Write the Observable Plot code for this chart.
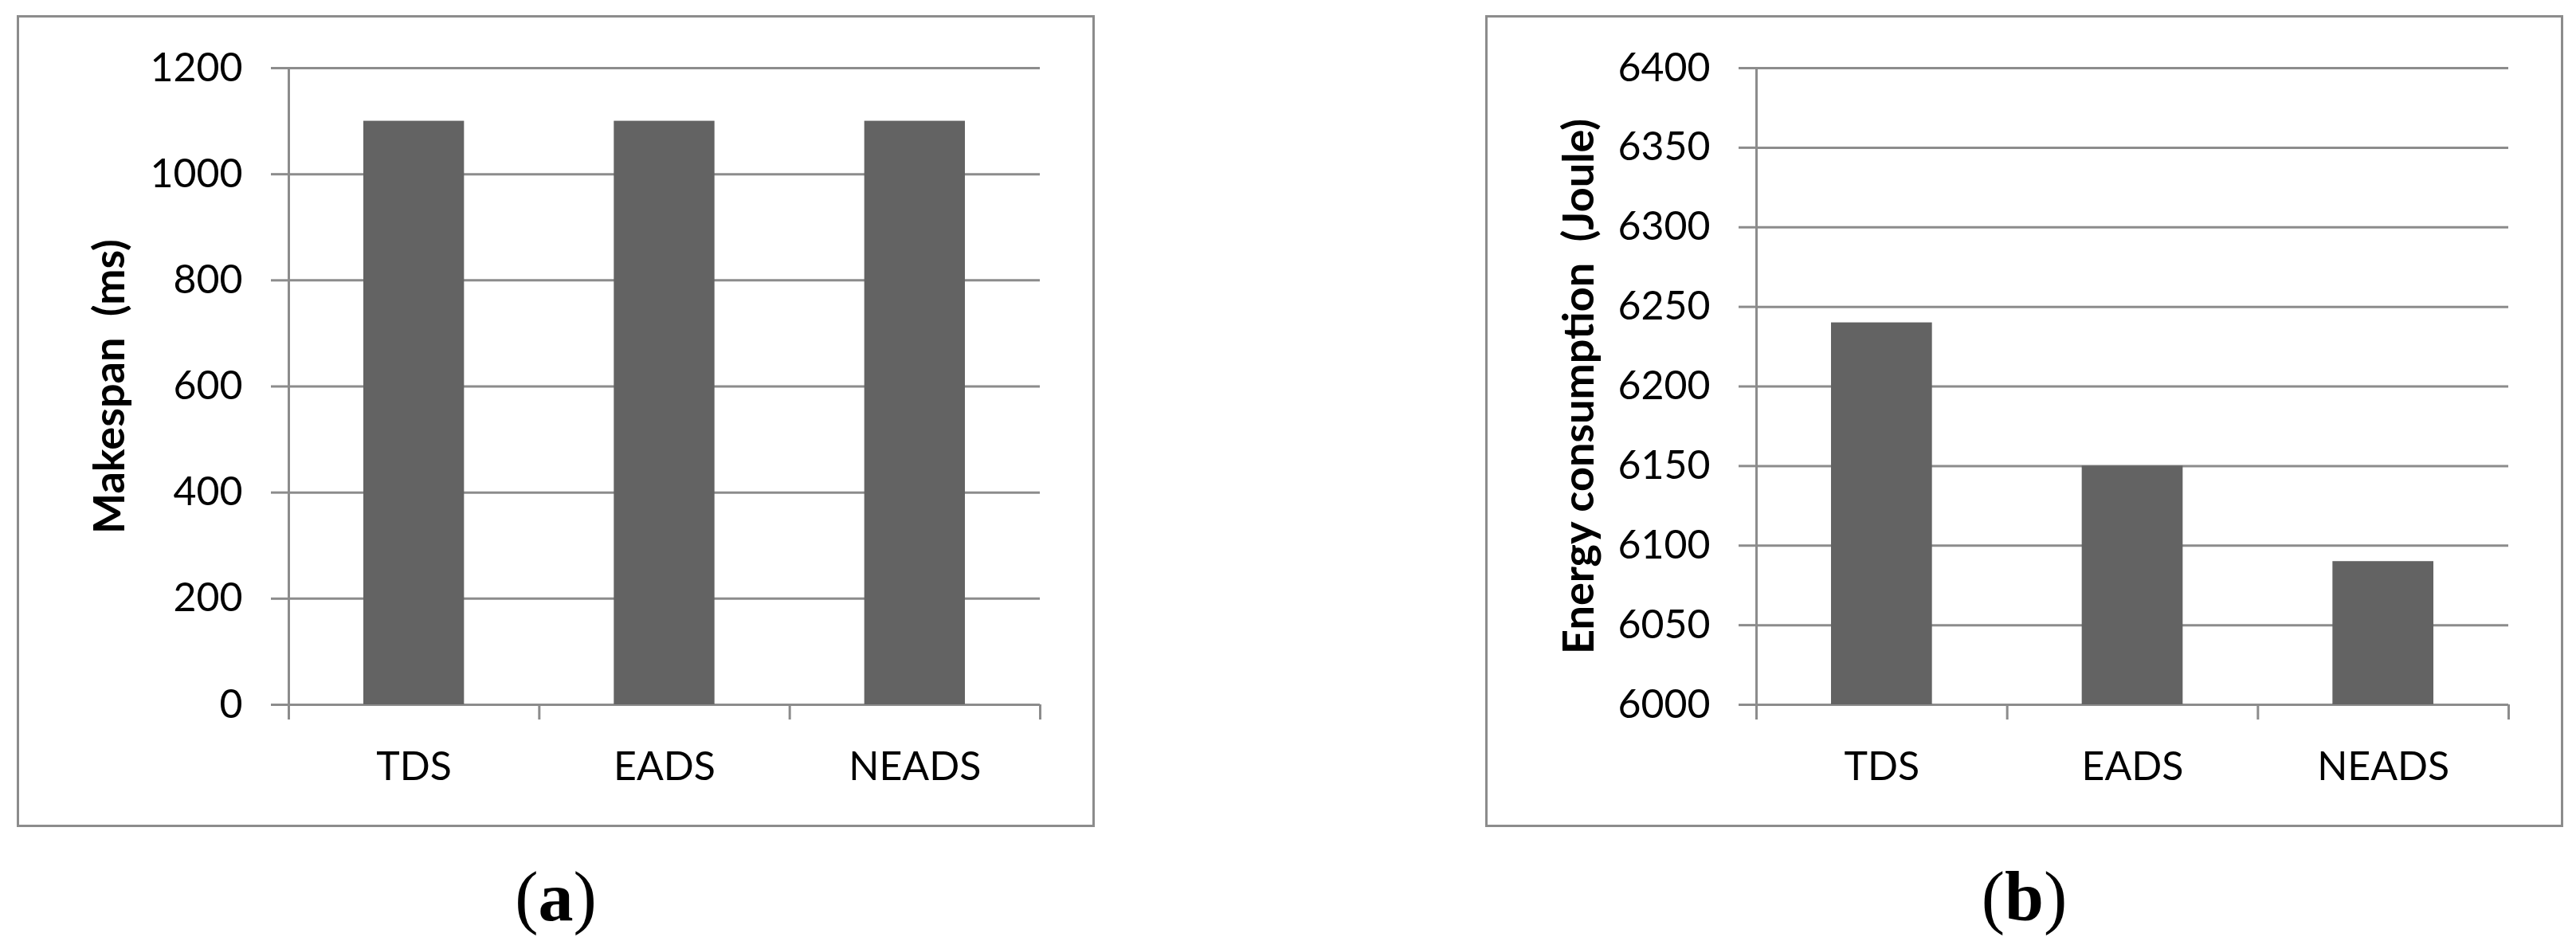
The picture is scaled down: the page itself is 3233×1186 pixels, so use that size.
<!DOCTYPE html>
<html>
<head>
<meta charset="utf-8">
<script src="https://cdn.jsdelivr.net/npm/d3@7"></script>
<script src="https://cdn.jsdelivr.net/npm/@observablehq/plot@0.6"></script>
<style>
  html, body { margin: 0; padding: 0; background: #fff; width: 3233px; height: 1186px; overflow: hidden; }
  .chart { position: absolute; top: 19px; width: 1353px; height: 1019px; }
  .box { position: absolute; top: 19px; width: 1353px; height: 1019px; box-sizing: border-box; border: 3px solid #8c8c8c; pointer-events: none; }
  .caption { position: absolute; top: 1082px; width: 1353px; text-align: center; font-family: "Liberation Serif", serif; font-size: 88px; line-height: 88px; color: #000; }
  .caption b { font-weight: bold; }
</style>
</head>
<body>
<div id="a" class="chart" style="left:21px"></div>
<div class="box" style="left:21px"></div>
<div class="caption" style="left:21px">(<b>a</b>)</div>
<div id="b" class="chart" style="left:1864px"></div>
<div class="box" style="left:1864px"></div>
<div class="caption" style="left:1864px">(<b>b</b>)</div>
<script>
// ---- data ----
const categories = ["TDS", "EADS", "NEADS"];
const makespan = [1100, 1100, 1100];
const energy = [6240, 6150, 6090];
const makespanTicks = [0, 200, 400, 600, 800, 1000, 1200];
const energyTicks = [6000, 6050, 6100, 6150, 6200, 6250, 6300, 6350, 6400];
const titleA = "Makespan\u00a0 (ms)";
const titleB = "Energy consumption\u00a0 (Joule)";

const GRID = "#8c8c8c";
const BAR = "#636363";
const FONT = "Lato, 'Open Sans', sans-serif";

function panel(values, ticks, title, marginLeft, titleDx) {
  const rows = categories.map((c, i) => ({ i, c, v: values[i] }));
  const yMin = ticks[0], yMax = ticks[ticks.length - 1];
  return Plot.plot({
    width: 1353,
    height: 1019,
    marginLeft,
    marginRight: 69,
    marginTop: 66,
    marginBottom: 154,
    style: { fontFamily: FONT, fontSize: "50px", background: "transparent", overflow: "visible", color: "#000" },
    x: { type: "linear", domain: [0, categories.length], axis: null },
    y: { domain: [yMin, yMax], axis: null },
    marks: [
      Plot.ruleY(ticks, { stroke: GRID, strokeWidth: 3 }),
      Plot.axisY({
        ticks, tickSize: 22, tickPadding: 36, label: null,
        stroke: GRID, strokeWidth: 3, fill: "#000",
        fontSize: 50, fontFamily: FONT,
        tickFormat: d => String(d)
      }),
      Plot.rectY(rows, {
        x1: "i", x2: d => d.i + 1, y1: yMin, y2: "v",
        insetLeft: 94, insetRight: 94, fill: BAR
      }),
      Plot.ruleX([0], { stroke: GRID, strokeWidth: 3 }),
      Plot.axisX({
        ticks: d3.range(categories.length + 1), tickSize: 19, label: null,
        stroke: GRID, strokeWidth: 3, tickFormat: () => ""
      }),
      Plot.axisX({
        ticks: categories.map((c, i) => i + 0.5), tickSize: 0, tickPadding: 59, label: null,
        fill: "#000", fontSize: 50, fontFamily: FONT,
        tickFormat: v => categories[Math.floor(v)]
      }),
      Plot.text([title], {
        text: d => d, frameAnchor: "left", dx: titleDx, rotate: -90,
        textAnchor: "middle", lineAnchor: "middle",
        fontWeight: "bold", fontSize: 54, fontFamily: FONT, fill: "#000"
      })
    ]
  });
}

document.getElementById("a").append(panel(makespan, makespanTicks, titleA, 341, -224));
document.getElementById("b").append(panel(energy, energyTicks, titleB, 340, -222));
</script>
</body>
</html>
